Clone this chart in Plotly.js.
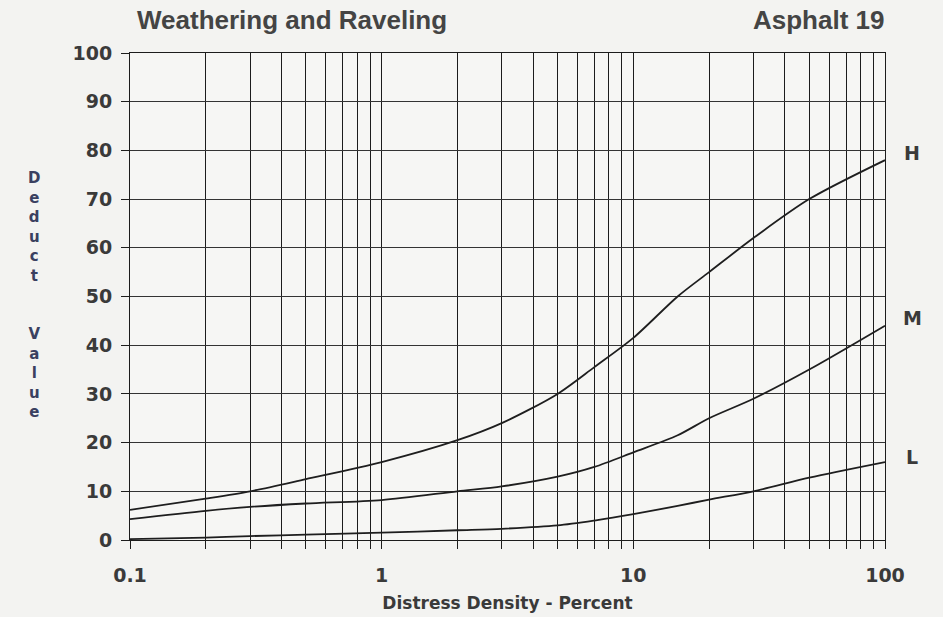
<!DOCTYPE html>
<html><head><meta charset="utf-8">
<script src="https://cdn.plot.ly/plotly-3.0.1.min.js"></script>
<style>html,body{margin:0;padding:0;background:#f3f3f1;}#chart{width:943px;height:617px;}</style>
</head><body><div id="chart"></div>
<script>
// Distress density (%) sample points
const density = [0.1, 0.2, 0.3, 0.5, 1, 2, 3, 5, 7, 10, 15, 20, 30, 50, 100];
// Deduct values per severity
const high   = [6.2, 8.5, 10, 12.5, 16, 20.5, 24, 30, 35.5, 41.5, 50, 55, 62, 70, 78];
const medium = [4.3, 6.0, 6.8, 7.5, 8.2, 10, 11, 13, 15, 18, 21.5, 25, 29, 35, 44];
const low    = [0.2, 0.5, 0.8, 1.1, 1.5, 2.0, 2.3, 3.0, 4.0, 5.3, 7.0, 8.3, 10, 12.8, 16];
const severityLabels = ["H", "M", "L"];
const labelValues = [79.5, 45.5, 17];
const xTickVals = [0.1,0.2,0.3,0.4,0.5,0.6,0.7,0.8,0.9,1,2,3,4,5,6,7,8,9,10,20,30,40,50,60,70,80,90,100];
const xTickText = xTickVals.map(v => [0.1,1,10,100].includes(v) ? String(v) : "");
const yTickVals = [0,10,20,30,40,50,60,70,80,90,100];

const lineStyle = {color: "#1e1e1e", width: 1.8, shape: "spline", smoothing: 0.8};
const traces = [high, medium, low].map(ys => ({
  x: density, y: ys, type: "scatter", mode: "lines", line: lineStyle, hoverinfo: "skip", showlegend: false
}));

const boldFont = "DejaVu Sans, Verdana, sans-serif";
const tickFont = {family: boldFont, size: 19, color: "#3a3a3a", weight: 700};
const gridCol = "#1c1c1c";
const layout = {
  width: 943, height: 617,
  margin: {l: 130, r: 58, t: 53, b: 77},
  paper_bgcolor: "#f3f3f1",
  plot_bgcolor: "#f6f6f4",
  xaxis: {
    type: "log", range: [-1, 2],
    tickvals: xTickVals, ticktext: xTickText,
    showgrid: true, gridcolor: gridCol, gridwidth: 1,
    ticks: "outside", ticklen: 8, tickcolor: gridCol, tickwidth: 1,
    showline: true, linecolor: gridCol, linewidth: 1, mirror: true,
    zeroline: false, tickfont: tickFont, ticklabelstandoff: 10,
    title: {text: "Distress Density - Percent", font: {family: boldFont, size: 17, color: "#3a3a3a", weight: 700}, standoff: 12}
  },
  yaxis: {
    range: [0, 100], tickvals: yTickVals,
    showgrid: true, gridcolor: "#333", gridwidth: 1,
    ticks: "outside", ticklen: 8, tickcolor: gridCol, tickwidth: 1,
    showline: true, linecolor: gridCol, linewidth: 1, mirror: true,
    zeroline: false, tickfont: tickFont, ticklabelstandoff: 5
  },
  annotations: [
    {text: "<b>Weathering and Raveling</b>", xref: "paper", yref: "paper", x: 0, xshift: 5, y: 1.0, yshift: 33, xanchor: "left", yanchor: "middle", showarrow: false,
     font: {family: "Liberation Sans, Arial, sans-serif", size: 26, color: "#444"}},
    {text: "<b>Asphalt 19</b>", xref: "paper", yref: "paper", x: 1.0, xshift: 2, y: 1.0, yshift: 33, xanchor: "right", yanchor: "middle", showarrow: false,
     font: {family: "Liberation Sans, Arial, sans-serif", size: 26, color: "#444"}},
    {text: "<b>D<br>e<br>d<br>u<br>c<br>t<br> <br> <br>V<br>a<br>l<br>u<br>e</b>", xref: "paper", yref: "paper", x: 0, xshift: -96, y: 0.5, yshift: 2,
     xanchor: "center", yanchor: "middle", showarrow: false,
     font: {family: boldFont, size: 15, color: "#3a4060"}}
  ].concat(severityLabels.map((s, i) => ({
    text: "<b>" + s + "</b>", xref: "paper", yref: "y", x: 1, xshift: 27, y: labelValues[i],
    xanchor: "center", yanchor: "middle", showarrow: false,
    font: {family: boldFont, size: 19, color: "#3a3a3a"}
  })))
};
Plotly.newPlot("chart", traces, layout, {staticPlot: true});
</script></body></html>
